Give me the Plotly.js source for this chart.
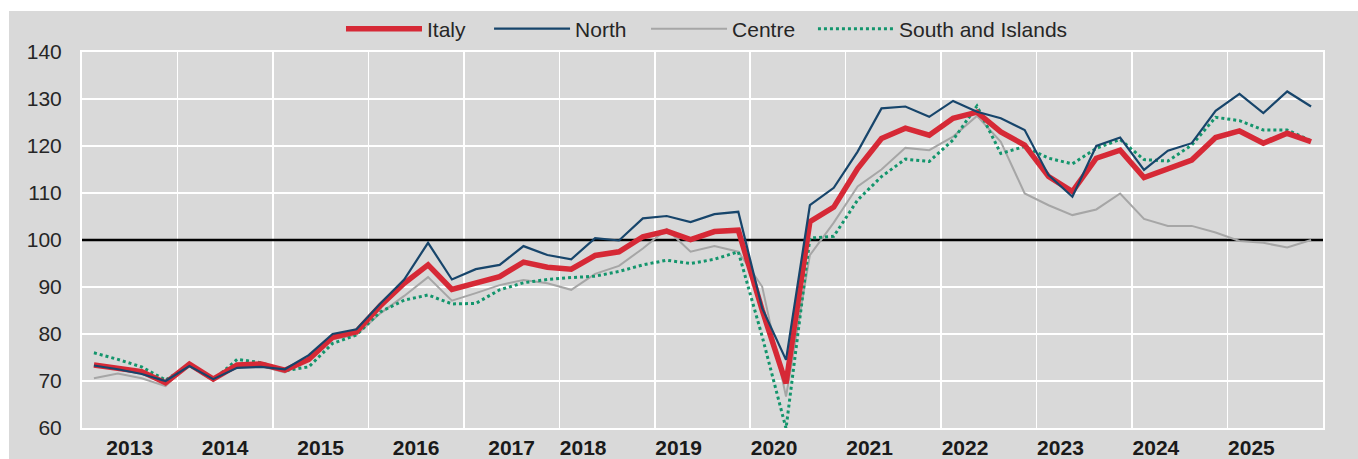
<!DOCTYPE html>
<html>
<head>
<meta charset="utf-8">
<script src="https://cdn.plot.ly/plotly-3.0.1.min.js"></script>
<style>
html,body{margin:0;padding:0;background:#ffffff;}
#chart{position:absolute;left:9px;top:11px;width:1349px;height:448px;}
</style>
</head>
<body>
<div id="chart"></div>
<script>
// Quarterly index, 2013 Q1 - 2025 Q4
const years = ['2013','2014','2015','2016','2017','2018','2019','2020','2021','2022','2023','2024','2025'];
const quarters = [];
years.forEach(y => ['Q1','Q2','Q3','Q4'].forEach(q => quarters.push(y + ' ' + q)));

const italy = [73.4,72.8,72.0,69.6,73.6,70.4,73.4,73.6,72.3,74.6,
  79.3,80.5,86.0,90.8,94.7,89.5,90.8,92.2,95.3,94.2,
  93.8,96.7,97.5,100.7,101.9,100.1,101.8,102.1,85.1,69.5,
  103.9,107.0,115.2,121.6,123.8,122.3,125.9,127.2,123.0,120.2,
  113.5,110.3,117.4,119.1,113.3,115.2,117.0,121.8,123.2,120.6,
  122.7,120.9];
const north = [73.3,72.5,71.5,70.0,73.2,70.4,72.8,73.0,72.5,75.5,
  80.0,81.0,86.5,91.6,99.4,91.6,93.8,94.7,98.7,96.8,
  95.9,100.4,99.9,104.6,105.1,103.8,105.5,106.0,85.5,74.5,
  107.4,111.1,118.8,128.0,128.4,126.2,129.6,127.3,125.9,123.4,
  113.8,109.2,120.0,121.8,114.9,119.0,120.6,127.5,131.1,127.0,
  131.6,128.4];
const centre = [70.6,71.6,70.6,68.9,73.9,70.2,73.0,73.2,71.8,74.6,
  78.9,79.8,84.4,88.1,92.1,87.1,88.7,90.4,91.5,90.8,
  89.4,92.8,94.5,98.2,102.3,97.5,98.7,97.5,90.1,66.7,
  96.8,103.7,111.4,115.0,119.6,119.1,122.0,126.4,120.9,109.9,
  107.4,105.3,106.5,109.9,104.5,103.0,103.0,101.6,99.8,99.4,
  98.4,100.0];
const south = [76.0,74.6,73.0,70.2,73.4,70.2,74.6,73.9,72.2,73.0,
  78.0,79.8,84.7,87.2,88.3,86.4,86.5,89.4,90.9,91.6,
  92.0,92.3,93.3,94.7,95.7,95.0,95.9,97.5,79.5,59.9,
  100.4,100.8,108.5,113.5,117.2,116.7,121.3,128.5,118.4,119.9,
  117.4,116.2,119.5,121.4,117.1,116.8,120.2,126.1,125.4,123.4,
  123.4,121.1];
const yearTickPos = [1.5,5.5,9.5,13.5,17.5,20.5,24.5,28.5,32.5,36.5,40.5,44.5,48.5];
const baseline = 100;

const xIdx = quarters.map((q, i) => i);
const xr = [-0.5, quarters.length - 0.5];
// year boundaries (grid lines between years)
const yearBounds = years.map((y, i) => i * 4 - 0.5).concat([quarters.length - 0.5]);
const font = '"Liberation Sans", Arial, sans-serif';
const textCol = '#262626';

const traces = [
  {name:'base', x:xr, y:[baseline, baseline], type:'scatter', mode:'lines',
   line:{color:'#000000', width:2.5}, showlegend:false, hoverinfo:'skip'},
  {name:'Centre', x:xIdx, y:centre, text:quarters, type:'scatter', mode:'lines',
   line:{color:'#a6a6a6', width:2}, legend:'legend3'},
  {name:'South and Islands', x:xIdx, y:south, text:quarters, type:'scatter', mode:'lines',
   line:{color:'#13956c', width:3, dash:'dot'}, legend:'legend4'},
  {name:'Italy', x:xIdx, y:italy, text:quarters, type:'scatter', mode:'lines',
   line:{color:'#d62936', width:5.5}, legend:'legend'},
  {name:'North', x:xIdx, y:north, text:quarters, type:'scatter', mode:'lines',
   line:{color:'#17456b', width:2.2}, legend:'legend2'}
];

function leg(x) {
  return {orientation:'h', x:x, xanchor:'left', y:1.061, yanchor:'middle',
    bgcolor:'rgba(0,0,0,0)', font:{family:font, size:21, color:textCol}, itemwidth:76};
}

const layout = {
  width:1349, height:448,
  margin:{l:73, r:35, t:41, b:31, autoexpand:false},
  paper_bgcolor:'#d9d9d9', plot_bgcolor:'#d9d9d9',
  showlegend:true,
  legend:leg(0.2087), legend2:leg(0.3280), legend3:leg(0.4545), legend4:leg(0.5890),
  xaxis:{range:xr, tickmode:'array', tickvals:yearTickPos, ticktext:years,
    showgrid:false, zeroline:false,
    minor:{tickmode:'array', tickvals:yearBounds, showgrid:true, gridcolor:'#ffffff', gridwidth:1.5, ticks:''},
    showline:true, linecolor:'#ffffff', linewidth:2, mirror:true, ticks:'',
    ticklabelstandoff:0,
    tickfont:{family:font, size:21, color:'#1a1a1a', weight:'bold'}, fixedrange:true},
  yaxis:{range:[60,140], tickmode:'linear', tick0:60, dtick:10, showgrid:true,
    gridcolor:'#ffffff', gridwidth:2, zeroline:false, showline:true, linecolor:'#ffffff',
    linewidth:2, mirror:true, ticks:'', ticklabelstandoff:14,
    tickfont:{family:font, size:21, color:textCol}, fixedrange:true}
};

Plotly.newPlot('chart', traces, layout, {displayModeBar:false, staticPlot:true});
</script>
</body>
</html>
